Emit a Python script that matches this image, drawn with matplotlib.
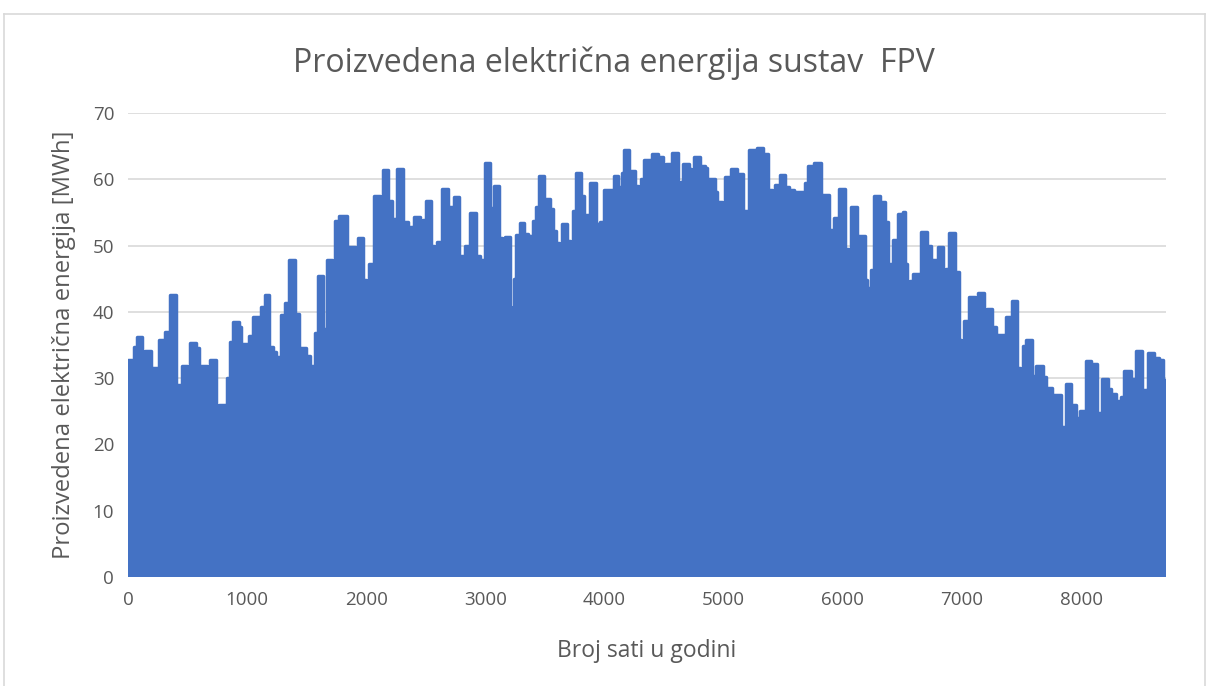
import matplotlib.pyplot as plt
from matplotlib.lines import Line2D

# hour where each plateau of daily peaks starts, and its peak value (MWh)
hours = [11, 50, 73, 117, 140, 190, 207, 257, 308, 352, 403, 453, 498, 520, 570, 593,
         665, 688, 738, 760, 811, 827, 855, 883, 928, 945, 1017, 1045,
         1096, 1118, 1146, 1185, 1213, 1241, 1280, 1314, 1353, 1403, 1431, 1453, 1493,
         1526, 1571, 1593, 1638, 1666, 1711, 1739, 1772, 1834, 1856, 1906, 1929, 1973,
         2001, 2024, 2068, 2113, 2141, 2186, 2214, 2242, 2259, 2309, 2354, 2381, 2404,
         2449, 2476, 2499, 2544, 2566, 2594, 2639, 2689, 2706, 2734, 2778, 2829, 2874,
         2924, 2952, 2969, 2996, 3041, 3069, 3114, 3136, 3164, 3209, 3214, 3237,
         3259, 3287, 3326, 3360, 3399, 3421, 3449, 3494, 3539, 3567, 3594, 3617, 3639,
         3684, 3706, 3734, 3762, 3801, 3829, 3880, 3924, 3958, 3997, 4064, 4075, 4114,
         4142, 4165, 4209, 4254, 4282, 4304, 4327, 4377, 4400, 4450, 4494, 4517, 4562,
         4612, 4640, 4662, 4707, 4729, 4752, 4802, 4841, 4858, 4875, 4925, 4947, 4987,
         5014, 5065, 5109, 5165, 5182, 5210, 5260, 5283, 5327, 5372, 5406, 5434, 5473,
         5518, 5546, 5591, 5686, 5708, 5759, 5814, 5831, 5881, 5898, 5926, 5965, 6016,
         6043, 6066, 6116, 6138, 6183, 6206, 6234, 6261, 6312, 6351, 6379, 6407, 6423,
         6463, 6502, 6519, 6541, 6563, 6591, 6636, 6658, 6709, 6737, 6759, 6798, 6843,
         6865, 6893, 6944, 6971, 6994, 7016, 7061, 7111, 7134, 7184, 7206, 7251, 7285,
         7301, 7352, 7368, 7419, 7463, 7486, 7508, 7536, 7586, 7625, 7676, 7704, 7754,
         7776, 7827, 7849, 7871, 7916, 7961, 7989, 8039, 8084, 8134, 8179, 8229, 8252,
         8296, 8335, 8363, 8419, 8464, 8509, 8542, 8559, 8609, 8654, 8688]
peaks = [32.7, 34.7, 36.2, 26.4, 34.1, 30.7, 31.6, 35.8, 36.9, 42.6, 29.0, 31.8, 30.7, 35.3, 34.6, 31.8,
         28.6, 32.7, 21.8, 26.0, 21.7, 30.0, 35.4, 38.5, 37.7, 35.2, 36.4, 39.2,
         37.7, 40.7, 42.6, 34.7, 33.9, 33.2, 39.5, 41.4, 47.9, 39.7, 30.9, 34.6, 33.4,
         31.9, 36.8, 45.4, 37.4, 47.9, 45.0, 53.7, 54.5, 47.8, 49.8, 44.8, 51.1, 44.8,
         41.5, 47.2, 57.5, 57.4, 61.4, 56.8, 54.1, 44.8, 61.6, 53.6, 52.8, 52.1, 54.3,
         52.9, 53.9, 56.7, 49.9, 47.4, 50.6, 58.5, 44.9, 55.9, 57.3, 48.4, 50.0, 54.9,
         48.4, 47.0, 47.8, 62.5, 55.7, 59.0, 51.2, 47.3, 51.3, 40.7, 40.5, 45.0,
         51.6, 53.4, 51.8, 51.4, 53.8, 55.8, 60.5, 57.0, 55.6, 52.2, 50.4, 47.3, 53.3,
         50.7, 47.7, 55.2, 60.9, 57.5, 54.7, 59.4, 53.2, 53.6, 58.4, 56.8, 60.5, 58.9,
         61.0, 64.4, 61.3, 59.0, 57.5, 60.1, 62.9, 60.6, 63.9, 63.4, 58.4, 62.4, 64.0,
         58.6, 59.6, 62.3, 61.6, 57.1, 63.4, 62.1, 61.8, 54.1, 60.1, 58.1, 56.6, 55.8,
         60.4, 61.6, 60.8, 54.6, 55.3, 64.4, 61.4, 64.8, 63.9, 58.4, 57.0, 59.1, 60.6,
         58.9, 58.4, 58.1, 59.4, 62.0, 62.5, 55.6, 57.6, 49.5, 52.4, 54.2, 58.5, 49.5,
         48.3, 55.9, 50.0, 51.4, 44.8, 43.6, 46.4, 57.5, 56.6, 53.6, 47.2, 41.2, 50.9,
         54.8, 55.1, 47.3, 43.2, 44.6, 45.8, 44.0, 52.1, 50.0, 45.3, 47.8, 49.8, 40.0,
         46.5, 51.9, 46.0, 35.7, 32.9, 38.6, 42.2, 39.3, 42.8, 38.7, 40.5, 37.7, 33.9,
         36.5, 29.1, 39.2, 41.6, 31.5, 30.7, 34.9, 35.8, 30.4, 31.8, 30.2, 28.5, 23.3,
         27.4, 21.6, 22.7, 29.1, 26.0, 24.0, 25.0, 32.6, 32.2, 24.7, 29.9, 28.4, 27.6,
         26.6, 27.1, 31.1, 29.9, 34.1, 28.2, 27.9, 33.8, 33.1, 32.8, 29.7]
last_hour = 8710

x_ticks = [0, 1000, 2000, 3000, 4000, 5000, 6000, 7000, 8000]
y_ticks = [0, 10, 20, 30, 40, 50, 60, 70]

blue = '#4472C4'
grey_txt = '#595959'
plt.rcParams['font.family'] = ['Open Sans', 'DejaVu Sans']

fig = plt.figure(figsize=(12.08, 6.86), dpi=100)
ax = fig.add_axes([0.106, 0.159, 0.859, 0.676])

xs = [0] + hours + [last_hour]
ys = [peaks[0]] + peaks + [peaks[-1]]
ax.fill_between(xs, ys, step='post', color=blue, lw=0, zorder=3)
ax.step(xs, ys, where='post', color=blue, lw=2.5, solid_joinstyle='round',
        solid_capstyle='round', zorder=3)

ax.set_xlim(0, last_hour)
ax.set_ylim(0, 70)
ax.set_xticks(x_ticks)
ax.set_yticks(y_ticks)
ax.grid(axis='y', color='#D9D9D9', lw=1.2, zorder=0)
ax.set_axisbelow(True)
for s in ax.spines.values():
    s.set_visible(False)
ax.tick_params(length=0, labelsize=13.5, colors=grey_txt, pad=10)

ax.set_xlabel('Broj sati u godini', fontsize=16.5, color=grey_txt, labelpad=22)
ax.set_ylabel('Proizvedena električna energija [MWh]', fontsize=17.2, color=grey_txt, labelpad=12)
fig.text(0.508, 0.908, 'Proizvedena električna energija sustav  FPV', fontsize=23,
         color=grey_txt, ha='center', va='center')

# light chart frame
fig.add_artist(Line2D([4/1208, 4/1208], [0, 1-14/686], color='#D9D9D9', lw=1.2))
fig.add_artist(Line2D([4/1208, 1205/1208], [1-14/686, 1-14/686], color='#D9D9D9', lw=1.2))
fig.add_artist(Line2D([1205/1208, 1205/1208], [0, 1-14/686], color='#D9D9D9', lw=1.2))

fig.savefig('out.png', dpi=100)
